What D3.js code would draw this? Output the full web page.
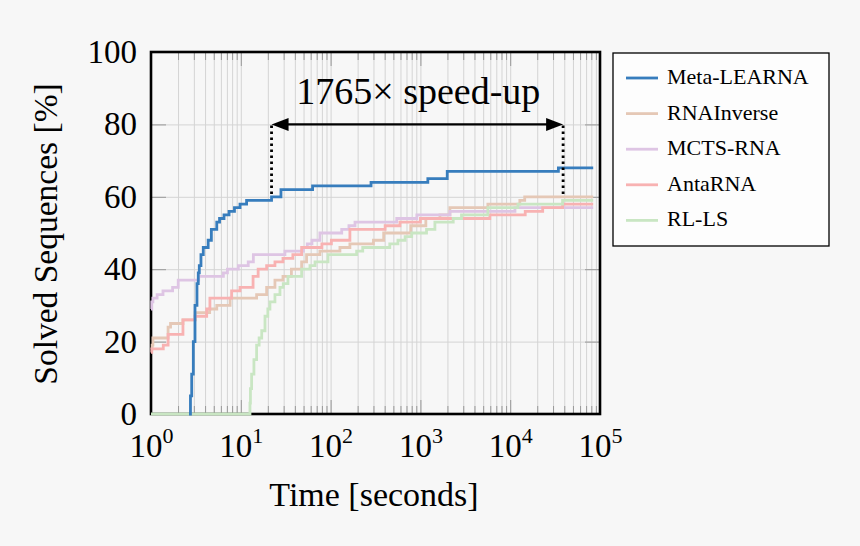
<!DOCTYPE html>
<html>
<head>
<meta charset="utf-8">
<script src="https://cdn.jsdelivr.net/npm/d3@7"></script>
<style>
  html, body { margin: 0; padding: 0; background: #f7f7f7; }
  svg { display: block; font-family: "Liberation Serif", "DejaVu Serif", serif; }
</style>
</head>
<body>
<div id="chart"></div>
<script>
// ---- data (time in seconds, solved sequences in %) ----
const seriesNames = ["Meta-LEARNA", "RNAInverse", "MCTS-RNA", "AntaRNA", "RL-LS"];

const metaLearna = [
    [2.65, 0], [2.75, 5], [2.84, 11], [2.96, 20], [3.09, 30], [3.25, 36], [3.36, 39],
    [3.45, 41], [3.6, 44], [3.82, 46], [4.33, 48], [4.7, 51], [5.4, 53], [5.8, 54],
    [6.5, 55], [7.4, 56], [8.5, 57], [9.8, 58], [11.6, 59], [22, 60], [28, 62],
    [63, 63], [282, 64], [1210, 65], [1990, 67], [34400, 68], [84000, 68]
];
const rnaInverse = [
    [1, 18], [1.03, 19], [1.05, 21], [1.55, 24], [1.65, 25], [2.27, 26], [3.1, 28],
    [4.5, 29], [5.4, 30], [7.6, 32], [15, 33], [19.4, 35], [24, 37], [29.5, 38],
    [36.6, 40], [47.6, 42], [54, 44], [76, 45], [127, 46], [164, 47], [300, 48],
    [390, 50], [780, 52], [1150, 54], [1650, 55], [2130, 57], [5640, 58], [12800, 59],
    [14500, 60], [84000, 60]
];
const mctsRna = [
    [1, 29], [1.02, 31], [1.05, 32], [1.17, 33], [1.36, 34], [1.74, 35], [2.01, 37],
    [3.4, 38], [6.4, 39], [7.1, 40], [9.4, 41], [12.1, 42], [13.8, 44], [31, 45],
    [49.8, 46], [55, 47], [62, 48], [76, 50], [133, 51], [160, 52], [187, 53],
    [545, 54], [913, 55], [2130, 56], [11300, 57], [84000, 57]
];
const antaRna = [
    [1, 17], [1.02, 18], [1.37, 19], [1.55, 22], [2.27, 26], [3.09, 27], [4.17, 29],
    [4.53, 32], [7.9, 34], [9.8, 35], [13.7, 38], [15.6, 40], [19.4, 41], [24, 42],
    [29.5, 43], [38, 44], [47.6, 46], [80, 47], [102, 48], [164, 51], [405, 52],
    [592, 53], [1000, 54], [5930, 55], [14700, 56], [23000, 57], [38300, 58], [84000, 58]
];
const rlLs = [
    [1, 0], [12.6, 0], [12.65, 3], [12.8, 7], [13.2, 11], [14, 15], [15, 19], [16, 21],
    [17.1, 23], [18.6, 27], [20, 29], [21.1, 31], [24, 33], [27.3, 35], [29.7, 36],
    [33.5, 38], [47.6, 40], [58.9, 41], [67.1, 42], [93.6, 44], [195, 45], [228, 46],
    [456, 47], [562, 48], [676, 49], [800, 50], [1170, 51], [1450, 53], [2320, 54],
    [2870, 55], [5640, 57], [12200, 58], [38300, 59], [84000, 59]
];

const xMajorTicks = [1, 10, 100, 1000, 10000, 100000];
const xTickExponents = ["0", "1", "2", "3", "4", "5"];
const yTicks = [0, 20, 40, 60, 80, 100];

// speed-up annotation: reference time, factor, level of the arrow, level of the dotted drop
const speedupStart = 22;
const speedupFactor = 1765;
const speedupArrowLevel = 80;
const speedupDropLevel = 60;

// ---- styles ----
const seriesColors = {
    "Meta-LEARNA": "#377dbd",
    "RNAInverse": "#e5c8b6",
    "MCTS-RNA": "#dec5e4",
    "AntaRNA": "#f8b2b2",
    "RL-LS": "#c9e6c3"
};
const seriesData = {
    "Meta-LEARNA": metaLearna,
    "RNAInverse": rnaInverse,
    "MCTS-RNA": mctsRna,
    "AntaRNA": antaRna,
    "RL-LS": rlLs
};

const width = 860, height = 546;
const plot = { left: 151, right: 600, top: 52, bottom: 414 };

const svg = d3.select("#chart").append("svg")
    .attr("width", width)
    .attr("height", height);

svg.append("rect").attr("width", width).attr("height", height).attr("fill", "#f7f7f7");

const x = d3.scaleLog().domain([1, 1e5]).range([plot.left, plot.right]);
const y = d3.scaleLinear().domain([0, 100]).range([plot.bottom, plot.top]);

// minor positions 2..9 x 10^k
const xMinorTicks = [];
for (let k = 0; k < 5; k++) {
    for (let m = 2; m <= 9; m++) xMinorTicks.push(m * Math.pow(10, k));
}

// ---- grid ----
const gridColor = "#d4d4d4";
svg.append("g")
    .attr("transform", `translate(0,${plot.bottom})`)
    .call(d3.axisBottom(x).tickValues(xMinorTicks.concat(xMajorTicks.slice(1, -1)))
        .tickSize(-(plot.bottom - plot.top)).tickFormat(""))
    .call(g => g.select(".domain").remove())
    .call(g => g.selectAll(".tick line").attr("stroke", gridColor).attr("stroke-width", 1));

svg.append("g")
    .attr("transform", `translate(${plot.left},0)`)
    .call(d3.axisLeft(y).tickValues(yTicks.slice(1, -1))
        .tickSize(-(plot.right - plot.left)).tickFormat(""))
    .call(g => g.select(".domain").remove())
    .call(g => g.selectAll(".tick line").attr("stroke", gridColor).attr("stroke-width", 1));

// ---- ticks (inside the frame, pgfplots style) ----
const tickColor = "#999";
function styleTicks(g) {
    g.select(".domain").remove();
    g.selectAll(".tick line").attr("stroke", tickColor).attr("stroke-width", 1);
}

// bottom minor + major
svg.append("g").attr("transform", `translate(0,${plot.bottom})`)
    .call(d3.axisBottom(x).tickValues(xMinorTicks).tickSize(-8).tickFormat(""))
    .call(styleTicks);
const xAxis = svg.append("g").attr("transform", `translate(0,${plot.bottom})`)
    .call(d3.axisBottom(x).tickValues(xMajorTicks).tickSize(-14).tickFormat(""))
    .call(styleTicks);
// top minor + major
svg.append("g").attr("transform", `translate(0,${plot.top})`)
    .call(d3.axisTop(x).tickValues(xMinorTicks).tickSize(-8).tickFormat(""))
    .call(styleTicks);
svg.append("g").attr("transform", `translate(0,${plot.top})`)
    .call(d3.axisTop(x).tickValues(xMajorTicks).tickSize(-14).tickFormat(""))
    .call(styleTicks);

// x tick labels 10^k
xAxis.selectAll(".tick text")
    .text(null)
    .attr("y", 43)
    .attr("dy", null)
    .attr("fill", "#000")
    .attr("font-size", 33)
    .attr("font-family", "Liberation Serif, serif")
    .each(function (d, i) {
        const t = d3.select(this);
        t.append("tspan").text("10");
        t.append("tspan").attr("dy", -14).attr("font-size", 22).text(xTickExponents[i]);
    });

// y axis left with labels, right without
svg.append("g").attr("transform", `translate(${plot.left},0)`)
    .call(d3.axisLeft(y).tickValues(yTicks).tickSize(-15).tickPadding(14))
    .call(styleTicks)
    .call(g => g.selectAll(".tick text")
        .attr("fill", "#000")
        .attr("font-size", 33)
        .attr("font-family", "Liberation Serif, serif"));
svg.append("g").attr("transform", `translate(${plot.right},0)`)
    .call(d3.axisRight(y).tickValues(yTicks).tickSize(-15).tickFormat(""))
    .call(styleTicks);

// ---- frame ----
svg.append("rect")
    .attr("x", plot.left)
    .attr("y", plot.top)
    .attr("width", plot.right - plot.left)
    .attr("height", plot.bottom - plot.top)
    .attr("fill", "none")
    .attr("stroke", "#000")
    .attr("stroke-width", 2.6);

// ---- step lines ----
const line = d3.line()
    .x(d => x(d[0]))
    .y(d => y(d[1]))
    .curve(d3.curveStepAfter);

// pastel series first, Meta-LEARNA on top
const drawOrder = ["RNAInverse", "MCTS-RNA", "AntaRNA", "RL-LS", "Meta-LEARNA"];
svg.append("g")
    .selectAll("path")
    .data(drawOrder)
    .join("path")
    .attr("d", name => line(seriesData[name]))
    .attr("fill", "none")
    .attr("stroke", name => seriesColors[name])
    .attr("stroke-width", 2.8);

// ---- speed-up annotation ----
const sx0 = x(speedupStart);
const sx1 = x(speedupStart * speedupFactor);
const ay = y(speedupArrowLevel);
const dropY = y(speedupDropLevel);

svg.append("g")
    .selectAll("line")
    .data([sx0, sx1])
    .join("line")
    .attr("x1", d => d).attr("x2", d => d)
    .attr("y1", ay + 1).attr("y2", dropY)
    .attr("stroke", "#000")
    .attr("stroke-width", 2.8)
    .attr("stroke-dasharray", "2.6,3.4");

const headLen = 17, headHalf = 6.5;
svg.append("line")
    .attr("x1", sx0 + headLen - 2).attr("x2", sx1 - headLen + 2)
    .attr("y1", ay).attr("y2", ay)
    .attr("stroke", "#000")
    .attr("stroke-width", 2.4);
svg.append("path")
    .attr("d", `M${sx0},${ay} L${sx0 + headLen},${ay - headHalf} L${sx0 + headLen},${ay + headHalf} Z`)
    .attr("fill", "#000");
svg.append("path")
    .attr("d", `M${sx1},${ay} L${sx1 - headLen},${ay - headHalf} L${sx1 - headLen},${ay + headHalf} Z`)
    .attr("fill", "#000");

svg.append("text")
    .attr("x", (sx0 + sx1) / 2 + 1)
    .attr("y", 104)
    .attr("text-anchor", "middle")
    .attr("font-size", 38)
    .attr("fill", "#000")
    .text(`${speedupFactor}\u00d7 speed-up`);

// ---- axis titles ----
svg.append("text")
    .attr("x", 374)
    .attr("y", 506)
    .attr("text-anchor", "middle")
    .attr("font-size", 34)
    .attr("fill", "#000")
    .text("Time [seconds]");

svg.append("text")
    .attr("transform", "translate(57,234) rotate(-90)")
    .attr("text-anchor", "middle")
    .attr("font-size", 33.5)
    .attr("fill", "#000")
    .text("Solved Sequences [%]");

// ---- legend ----
const legend = svg.append("g").attr("transform", "translate(613,53)");
legend.append("rect")
    .attr("width", 216)
    .attr("height", 193)
    .attr("fill", "#fdfdfd")
    .attr("stroke", "#000")
    .attr("stroke-width", 1.3);

const entry = legend.selectAll("g.entry")
    .data(seriesNames)
    .join("g")
    .attr("class", "entry")
    .attr("transform", (d, i) => `translate(0,${25 + i * 35.6})`);
entry.append("line")
    .attr("x1", 13).attr("x2", 45)
    .attr("stroke", d => seriesColors[d])
    .attr("stroke-width", 2.8);
entry.append("text")
    .attr("x", 54)
    .attr("y", 6)
    .attr("font-size", 22)
    .attr("fill", "#000")
    .text(d => d);
</script>
</body>
</html>
